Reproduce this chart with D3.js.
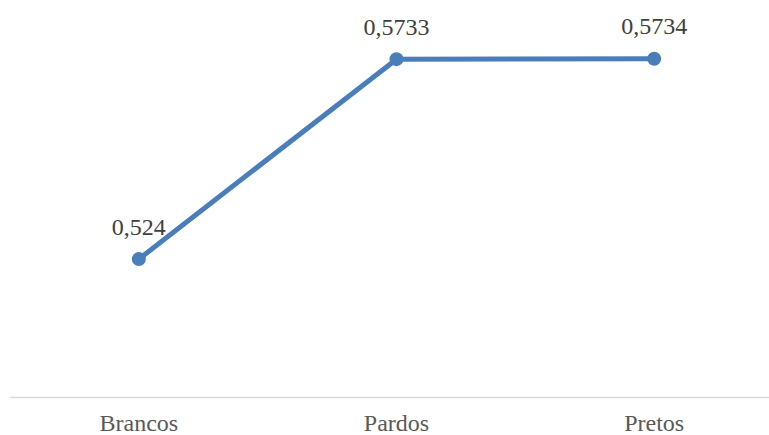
<!DOCTYPE html>
<html><head><meta charset="utf-8">
<script src="https://cdn.jsdelivr.net/npm/d3@7"></script>
<style>html,body{margin:0;padding:0;background:#fff;overflow:hidden}</style>
</head><body>
<svg id="c" width="769" height="435"></svg>
<script>
const categories = ["Brancos", "Pardos", "Pretos"];
const values = [0.524, 0.5733, 0.5734];
const valueLabels = ["0,524", "0,5733", "0,5734"];

const svg = d3.select("#c");
const x = d3.scaleBand().domain(categories).range([10, 783]);
const y = d3.scaleLinear().domain([0.49, 0.58]).range([397, 32]);
const cx = d => x(d) + x.bandwidth() / 2;

const data = categories.map((c, i) => ({c, v: values[i], l: valueLabels[i]}));

const axis = svg.append("g").attr("transform", "translate(0,397)")
  .call(d3.axisBottom(x).tickSize(0).tickPadding(17));
axis.select(".domain").attr("stroke", "#d9d9d9").attr("stroke-width", 1.3);
axis.selectAll("text").attr("font-family", "'Liberation Serif','Times New Roman',serif")
  .attr("font-size", 24).attr("fill", "#595959");

svg.append("path").datum(data)
  .attr("fill", "none").attr("stroke", "#4a7ebb").attr("stroke-width", 5)
  .attr("stroke-linejoin", "round").attr("stroke-linecap", "round")
  .attr("d", d3.line().x(d => cx(d.c)).y(d => y(d.v)));

svg.selectAll("circle.pt").data(data).enter().append("circle")
  .attr("cx", d => cx(d.c)).attr("cy", d => y(d.v)).attr("r", 7)
  .attr("fill", "#4a7ebb");

svg.selectAll("text.lbl").data(data).enter().append("text")
  .attr("x", d => cx(d.c)).attr("y", d => y(d.v) - 24.5)
  .attr("text-anchor", "middle")
  .attr("font-family", "'Liberation Serif','Times New Roman',serif")
  .attr("font-size", 24).attr("fill", "#404040")
  .text(d => d.l);
</script>
</body></html>
